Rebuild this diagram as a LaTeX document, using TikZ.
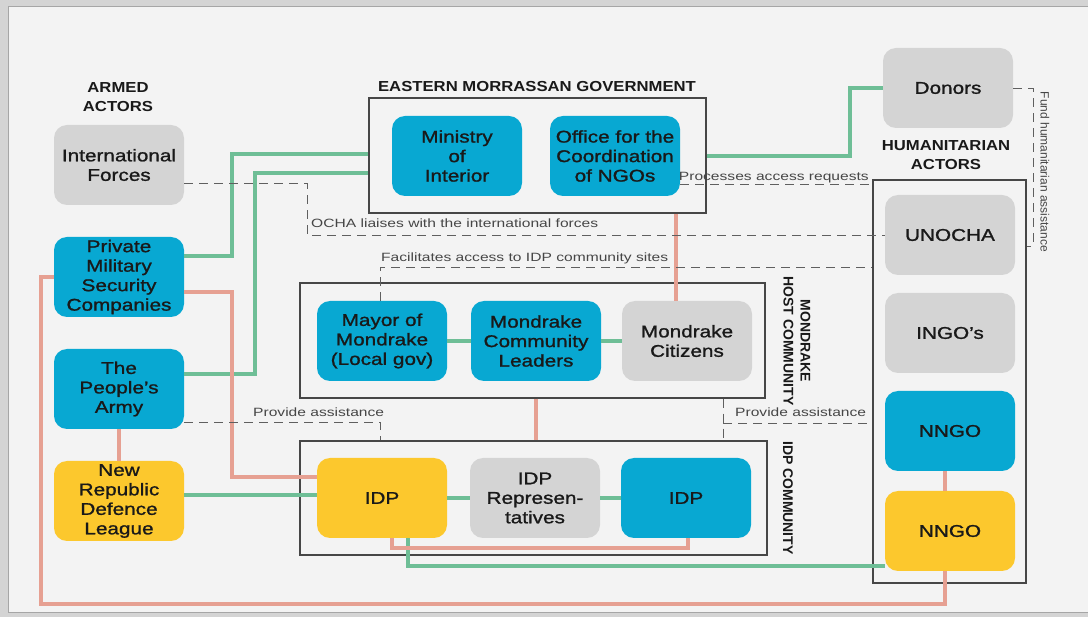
\documentclass[tikz,border=0pt]{standalone}
\usepackage{fontspec}
\setmainfont[FakeStretch=1.22,FakeBold=1.2]{Liberation Sans}
\newfontfamily\headfont[FakeStretch=1.15]{Liberation Sans}
\newfontfamily\labfont[FakeStretch=1.3]{Liberation Sans}
\newfontfamily\sidefont{Liberation Sans}
\usepackage{tikz}
\usetikzlibrary{calc}
\definecolor{nodeblue}{RGB}{8,168,210}
\definecolor{nodegray}{RGB}{212,212,212}
\definecolor{nodeyellow}{RGB}{252,200,45}
\definecolor{linkgreen}{RGB}{110,190,150}
\definecolor{linkred}{RGB}{230,160,146}
\definecolor{dashgray}{RGB}{95,95,95}
\definecolor{grpline}{RGB}{70,70,70}
\definecolor{txtdark}{RGB}{25,25,25}
\definecolor{labgray}{RGB}{70,70,70}
\definecolor{bgpanel}{RGB}{243,243,243}
\definecolor{framegray}{RGB}{212,212,212}

\begin{document}
\begin{tikzpicture}[x=1pt,y=-1pt,
  actor/.style={rounded corners=13pt,minimum width=130pt,minimum height=80pt,inner sep=1pt,align=center,text=txtdark,font={\fontsize{17}{19.5}\selectfont}},
  bluebox/.style={actor,fill=nodeblue},
  graybox/.style={actor,fill=nodegray},
  yellowbox/.style={actor,fill=nodeyellow},
  grp/.style={draw=grpline,line width=1.2pt,inner sep=0pt},
  greenl/.style={draw=linkgreen,line width=4pt},
  redl/.style={draw=linkred,line width=4pt},
  dashl/.style={draw=dashgray,line width=0.9pt,dash pattern=on 9pt off 6pt},
  lbl/.style={font={\labfont\fontsize{12}{14}\selectfont},text=labgray,inner sep=0pt},
  head/.style={font={\headfont\bfseries\fontsize{14.5}{19}\selectfont},text=txtdark,align=center},
  side/.style={font={\sidefont\bfseries\fontsize{14}{17}\selectfont},text=txtdark,align=center},
  sidelbl/.style={font={\sidefont\fontsize{12}{14}\selectfont},text=labgray,inner sep=0pt}]
\useasboundingbox (0,0) rectangle (1088,617);
\fill[framegray] (0,0) rectangle (1088,617);
\filldraw[fill=bgpanel,draw=gray!70,line width=0.8pt] (8,6) rectangle (1095,612);
% groups
\node[grp,minimum width=337pt,minimum height=115pt] (gov) at (537.5,155.5) {};
\node[grp,minimum width=465pt,minimum height=115pt] (host) at (532.5,340.5) {};
\node[grp,minimum width=467pt,minimum height=114pt] (idpc) at (533.5,498) {};
\node[grp,minimum width=153pt,minimum height=403pt] (hum) at (949.5,381.5) {};
\node[head] (armedlbl) at (118,97) {ARMED\\ACTORS};
\node[head] (govlbl) at (537,87) {EASTERN MORRASSAN GOVERNMENT};
\node[head] (humlbl) at (946,155) {HUMANITARIAN\\ACTORS};
\node[side,rotate=-90] (hostlbl) at (797,341) {MONDRAKE\\HOST COMMUNITY};
\node[side,rotate=-90] (idpclbl) at (788,498) {IDP COMMUNITY};
% actors
\foreach \nm/\xx/\yy/\txt in {pmsc/119/277/{Private\\Military\\Security\\Companies},
  army/119/389/{The\\People’s\\Army},mini/457/156/{Ministry\\of\\Interior},
  ngo/615/156/{Office for the\\Coordination\\of NGOs},mayor/382/341/{Mayor of\\Mondrake\\(Local gov)},
  leaders/536/341/{Mondrake\\Community\\Leaders},idpb/686/498/{IDP},nngob/950/431/{NNGO}}
  \node[bluebox] (\nm) at (\xx,\yy) {\txt};
\foreach \nm/\xx/\yy/\txt in {intl/119/165/{International\\Forces},donors/948/88/{Donors},
  unocha/950/235/{UNOCHA},ingo/950/333/{INGO’s},citizens/687/341/{Mondrake\\Citizens},
  reps/535/498/{IDP\\Represen-\\tatives}}
  \node[graybox] (\nm) at (\xx,\yy) {\txt};
\foreach \nm/\xx/\yy/\txt in {nrdl/119/501/{New\\Republic\\Defence\\League},
  idpy/382/498/{IDP},nngoy/950/531/{NNGO}}
  \node[yellowbox] (\nm) at (\xx,\yy) {\txt};
% green links
\draw[greenl] ([yshift=21pt]pmsc.east) -| (232,154) -- (gov.west |- 0,154);
\draw[greenl] ([yshift=15pt]army.east) -| (255,173) -- (gov.west |- 0,173);
\draw[greenl] (gov.east |- ngo) -| (850,88) -- (donors.west);
\draw[greenl] (mayor) -- (leaders);
\draw[greenl] (leaders) -- (citizens);
\draw[greenl] (idpy) -- (reps);
\draw[greenl] (reps) -- (idpb);
\draw[greenl] (nrdl.east |- 0,495) -- (idpy.west |- 0,495);
\draw[greenl] ([xshift=26pt]idpy.south) |- ([yshift=-35pt]nngoy.west);
% red links
\draw[redl] ([yshift=-15pt]pmsc.east) -| (232,477) -- (idpy.west |- 0,477);
\draw[redl] ([xshift=-11pt]citizens.north) -- ([xshift=-11pt]citizens.north |- gov.south);
\draw[redl] (leaders.south |- host.south) -- (leaders.south |- idpc.north);
\draw[redl] (army) -- (nrdl);
\draw[redl] ([xshift=10pt]idpy.south) -- ++(0,10) -| ([xshift=2pt]idpb.south);
\draw[redl] ([xshift=-5pt]nngob.south) -- ([xshift=-5pt]nngoy.north);
\draw[redl] (pmsc.west) -| (41,604) -| ([xshift=-5pt]nngoy.south);
% dashed relations
\draw[dashl] ([yshift=-18pt]intl.east) -| (307,235) -- (unocha.west);
\node[lbl,anchor=base west] (ochalbl) at (311,228) {OCHA liaises with the international forces};
\draw[dashl] ([yshift=-28pt]ngo.east) -- (hum.west |- 0,184);
\node[lbl,anchor=base east] (proclbl) at (869,181) {Processes access requests};
\draw[dashl] ([xshift=-2pt]mayor.north) |- (hum.west |- 0,267);
\node[lbl,anchor=base west] (faclbl) at (381,262) {Facilitates access to IDP community sites};
\draw[dashl] ([yshift=-33pt]army.east) -| (idpc.north -| 380,0);
\node[lbl,anchor=base west] (provlbl) at (253,417) {Provide assistance};
\coordinate (pa) at (723,423);
\draw[dashl] (host.south -| pa) -- (idpc.north -| pa);
\draw[dashl] (pa) -- (hum.west |- pa);
\node[lbl,anchor=base west] (provlbr) at (735,417) {Provide assistance};
\draw[dashl] (donors.east) -| (1033,246) -- (hum.east |- 0,246);
\node[sidelbl,rotate=-90] (fundlbl) at (1045,172) {Fund humanitarian assistance};
\end{tikzpicture}
\end{document}
